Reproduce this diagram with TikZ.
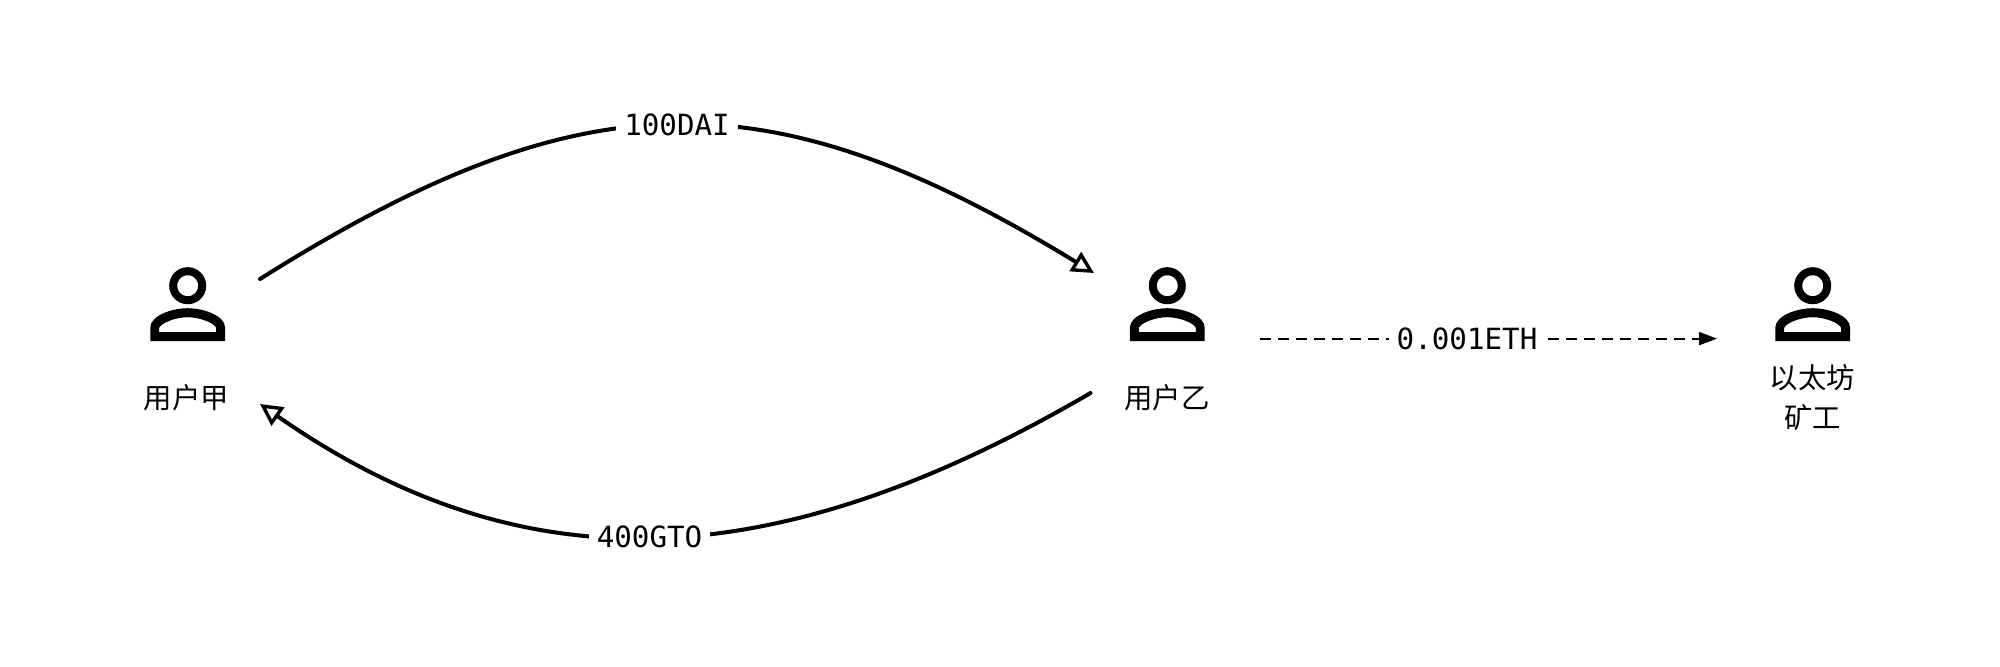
\documentclass[tikz,border=0pt]{standalone}
\usepackage{fontspec}
\setmonofont{DejaVu Sans Mono}
\newfontfamily\cjk{Noto Sans CJK SC}
\usetikzlibrary{arrows.meta}
\tikzset{
  x=0.5pt,y=-0.5pt,
  person/.pic={
    \draw[line width=4pt] (0,0) circle[radius=14.5];
    \fill[even odd rule]
      (-37.4,55.3) -- (-37.4,42) .. controls (-37.4,30) and (-16,22.5) .. (0,22.5)
      .. controls (16,22.5) and (37.4,30) .. (37.4,42) -- (37.4,55.3) -- cycle
      (-28.5,46.3) -- (-28.5,42) .. controls (-26,37) and (-12,31.5) .. (0,31.5)
      .. controls (12,31.5) and (26,37) .. (28.5,42) -- (28.5,46.3) -- cycle;
  },
  namelabel/.style={font=\cjk\fontsize{14.2}{20}\selectfont,align=center,inner sep=0pt},
  amount/.style={font=\ttfamily\fontsize{14.6}{17}\selectfont,fill=white,inner sep=4pt,inner ysep=6pt},
  flow/.style={line width=2pt,line cap=round,-{Triangle[open,length=11pt,width=11pt,fill=white,line width=1.7pt]}},
  fee/.style={line width=1.1pt,dash pattern=on 5.5pt off 3.5pt,-{Triangle[length=9pt,width=6.5pt]}},
}
\begin{document}
\begin{tikzpicture}
\useasboundingbox[fill=white] (0,0) rectangle (2000,666);
\coordinate (userA) at (187.7,285.7);
\coordinate (userB) at (1167.3,285.7);
\coordinate (miner) at (1812.7,285.7);
\pic at (userA) {person};
\pic at (userB) {person};
\pic at (miner) {person};
\node[namelabel] (labelA) at (186.5,398) {用户甲};
\node[namelabel] (labelB) at (1167,398) {用户乙};
\node[namelabel] (labelM) at (1812.5,398) {以太坊\\矿工};
\coordinate (topStart) at (260,279);
\coordinate (topEnd) at (1094,273);
\coordinate (botStart) at (1090.5,393);
\coordinate (botEnd) at (260,404);
\coordinate (feeStart) at (1260,338.6);
\coordinate (feeEnd) at (1717,338.6);
\draw[flow] (topStart) .. controls (584,75) and (770,75) .. (topEnd)
  node[amount,pos=0.5,yshift=0pt] (dai) {100DAI};
\draw[flow] (botStart) .. controls (765,583) and (517,583) .. (botEnd)
  node[amount,pos=0.5] (gto) {400GTO};
\draw[fee] (feeStart) -- (feeEnd)
  node[amount,pos=0.453] (eth) {0.001ETH};
\end{tikzpicture}
\end{document}
